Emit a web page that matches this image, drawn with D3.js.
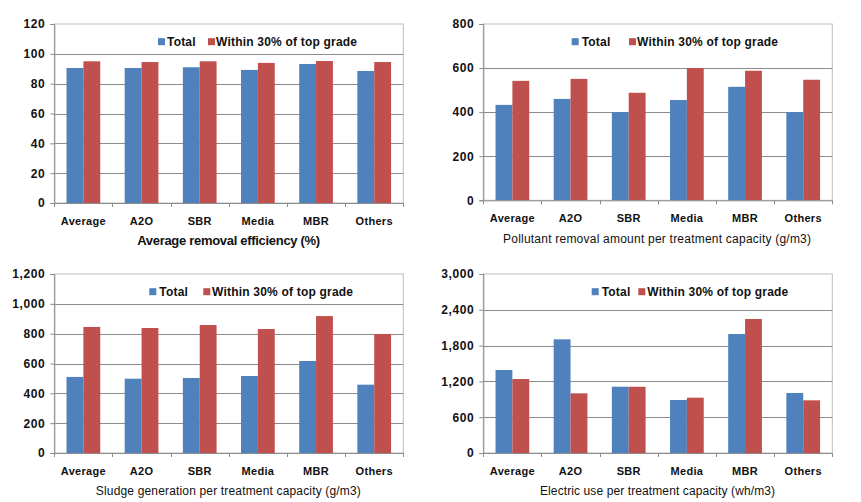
<!DOCTYPE html>
<html>
<head>
<meta charset="utf-8">
<script src="https://cdn.jsdelivr.net/npm/d3@7"></script>
<style>
  html, body { margin: 0; padding: 0; background: #fff; }
  svg { display: block; }
  text { font-family: "Liberation Sans", Arial, sans-serif; fill: #111; }
</style>
</head>
<body>
<script>
// ---- Data ----
const categories = ["Average", "A2O", "SBR", "Media", "MBR", "Others"];
const seriesNames = ["Total", "Within 30% of top grade"];
const seriesColors = ["#4F81BD", "#C0504D"];

const removalTotal = [90.5, 90.5, 91.0, 89.2, 93.2, 88.5];
const removalTop   = [95.0, 94.5, 95.0, 93.9, 95.2, 94.5];
const removalTicks = [0, 20, 40, 60, 80, 100, 120];

const pollutantTotal = [433, 460, 400, 455, 515, 400];
const pollutantTop   = [542, 551, 488, 600, 588, 547];
const pollutantTicks = [0, 200, 400, 600, 800];

const sludgeTotal = [510, 498, 503, 516, 617, 458];
const sludgeTop   = [845, 838, 858, 831, 918, 798];
const sludgeTicks = [0, 200, 400, 600, 800, 1000, 1200];

const electricTotal = [1391, 1905, 1111, 888, 1994, 1006];
const electricTop   = [1240, 1000, 1110, 927, 2246, 883];
const electricTicks = [0, 600, 1200, 1800, 2400, 3000];

const titles = [
  "Average removal efficiency (%)",
  "Pollutant removal amount per treatment capacity  (g/m3)",
  "Sludge generation per treatment capacity  (g/m3)",
  "Electric use per treatment capacity  (wh/m3)"
];

// ---- Layout ----
const W = 861, H = 502;
const panels = [
  { total: removalTotal, top: removalTop, ticks: removalTicks, title: titles[0],
    box: { l: 54.3, r: 403.3, t: 24, b: 203 },
    legend: { y: 41.7, bx: 158, tx: 167, rx: 208, rtx: 216 },
    titleStyle: { x: 228.7, y: 240, bold: true, size: 13, len: 183 } },
  { total: pollutantTotal, top: pollutantTop, ticks: pollutantTicks, title: titles[1],
    box: { l: 483.3, r: 832.3, t: 24, b: 200.3 },
    legend: { y: 41.7, bx: 571.7, tx: 581.7, rx: 629, rtx: 637 },
    titleStyle: { x: 657, y: 238.3, bold: false, size: 12, len: 308 } },
  { total: sludgeTotal, top: sludgeTop, ticks: sludgeTicks, title: titles[2],
    box: { l: 54.3, r: 403.3, t: 274, b: 453 },
    legend: { y: 291.7, bx: 149.3, tx: 159.3, rx: 203.3, rtx: 212 },
    titleStyle: { x: 228.3, y: 490.7, bold: false, size: 12, len: 265 } },
  { total: electricTotal, top: electricTop, ticks: electricTicks, title: titles[3],
    box: { l: 483.3, r: 832.3, t: 274, b: 453 },
    legend: { y: 291.7, bx: 591.7, tx: 601.7, rx: 638.3, rtx: 647.3 },
    titleStyle: { x: 657.5, y: 490.7, bold: false, size: 12, len: 235 } }
];

const svg = d3.select("body").append("svg")
  .attr("width", W).attr("height", H)
  .attr("viewBox", `0 0 ${W} ${H}`);

const fmt = d3.format(",");

panels.forEach(p => {
  const g = svg.append("g");
  const { l, r, t, b } = p.box;

  const x = d3.scaleBand().domain(categories).range([l, r]).paddingInner(0).paddingOuter(0);
  const y = d3.scaleLinear().domain([0, d3.max(p.ticks)]).range([b, t]);
  const bw = x.bandwidth() / 3.45;
  const x1 = d3.scaleBand().domain(seriesNames)
    .range([0, 2 * bw]);

  // plot border (top, right)
  g.append("rect")
    .attr("x", l).attr("y", t).attr("width", r - l).attr("height", b - t)
    .attr("fill", "none").attr("stroke", "#bdbdbd").attr("stroke-width", 1);

  // gridlines
  g.append("g").selectAll("line").data(p.ticks.filter(v => v > 0 && v < d3.max(p.ticks)))
    .join("line")
    .attr("x1", l).attr("x2", r)
    .attr("y1", d => Math.round(y(d)) + 0.5).attr("y2", d => Math.round(y(d)) + 0.5)
    .attr("stroke", "#8c8c8c").attr("stroke-width", 1);

  // bars
  const rows = categories.map((c, i) => ({ c, vals: [p.total[i], p.top[i]] }));
  const grp = g.append("g").selectAll("g").data(rows).join("g")
    .attr("transform", d => `translate(${x(d.c) + (x.bandwidth() - 2 * bw) / 2},0)`);
  grp.selectAll("rect").data(d => d.vals.map((v, k) => ({ v, k })))
    .join("rect")
    .attr("x", d => x1(seriesNames[d.k]))
    .attr("width", x1.bandwidth())
    .attr("y", d => y(d.v))
    .attr("height", d => b - y(d.v))
    .attr("fill", d => seriesColors[d.k]);

  // y axis
  const ya = d3.axisLeft(y).tickValues(p.ticks).tickFormat(fmt).tickSize(4).tickPadding(5);
  const yg = g.append("g").attr("transform", `translate(${l},0)`).call(ya);
  yg.select(".domain").attr("stroke", "#8c8c8c");
  yg.selectAll(".tick line").attr("stroke", "#8c8c8c");
  yg.selectAll(".tick text").attr("font-size", 12).attr("font-weight", "bold")
    .attr("letter-spacing", "0.6px").style("font-family", '"Liberation Sans", Arial, sans-serif')
    .attr("fill", "#111");

  // x axis
  const xa = d3.axisBottom(x).tickSize(0).tickPadding(14);
  const xg = g.append("g").attr("transform", `translate(0,${b})`).call(xa);
  xg.select(".domain").attr("stroke", "#8c8c8c");
  xg.selectAll(".tick text").attr("font-size", 11).attr("font-weight", "bold")
    .attr("letter-spacing", "0.3px").style("font-family", '"Liberation Sans", Arial, sans-serif')
    .attr("fill", "#111");
  // boundary tick marks
  const bounds = categories.map(c => x(c)).concat([r]);
  g.append("g").selectAll("line").data(bounds).join("line")
    .attr("x1", d => Math.round(d) + 0.5).attr("x2", d => Math.round(d) + 0.5)
    .attr("y1", b).attr("y2", b + 4)
    .attr("stroke", "#8c8c8c");

  // legend
  const L = p.legend;
  const lg = g.append("g");
  [[L.bx, L.tx], [L.rx, L.rtx]].forEach((pos, k) => {
    lg.append("rect").attr("x", pos[0]).attr("y", L.y - 3.5).attr("width", 7).attr("height", 7)
      .attr("fill", seriesColors[k]);
    lg.append("text").attr("x", pos[1]).attr("y", L.y).attr("dy", "0.35em")
      .attr("font-size", 12).attr("font-weight", "bold").attr("letter-spacing", "0.2px")
      .text(seriesNames[k]);
  });

  // title
  const ts = p.titleStyle;
  g.append("text")
    .attr("x", ts.x).attr("y", ts.y).attr("dy", "0.35em")
    .attr("text-anchor", "middle")
    .attr("font-size", ts.size)
    .attr("font-weight", ts.bold ? "bold" : "normal")
    .attr("textLength", ts.len).attr("lengthAdjust", "spacing")
    .text(p.title);
});
</script>
</body>
</html>
